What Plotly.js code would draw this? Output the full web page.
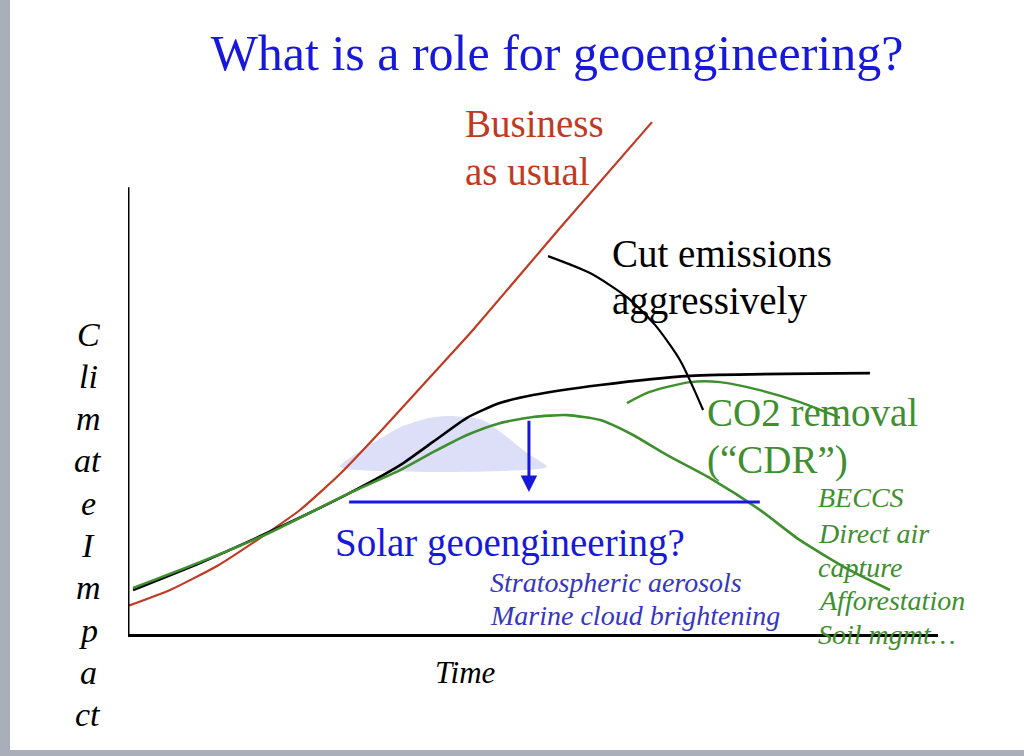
<!DOCTYPE html>
<html>
<head>
<meta charset="utf-8">
<script src="https://cdn.plot.ly/plotly-3.0.1.min.js"></script>
<style>
  html, body { margin: 0; padding: 0; background: #ffffff; }
  #chart { width: 1024px; height: 756px; }
  .edge-left { position: absolute; left: 0; top: 0; width: 10px; height: 756px; background: #a9aeb8; }
  .edge-bottom { position: absolute; left: 0; top: 750px; width: 1024px; height: 6px; background: #a9aeb8; }
</style>
</head>
<body>
<div id="chart"></div>
<div class="edge-left"></div>
<div class="edge-bottom"></div>
<script>
// ---- Data (Time 0-100, Climate Impacts 0-100) ----
const bauTime   = [0, 5.19, 10.99, 16.3, 21.23, 26.17, 31.11, 37.53, 42.59, 53.33, 64.69];
const bauImpact = [6.27, 9.85, 15.22, 21.49, 27.76, 35.82, 45.22, 57.99, 68.06, 90.9, 114.6];

const cutTime   = [0.62, 8.89, 17.16, 27.4, 33.6, 37.65, 41.85, 45.9, 50.0, 58.3, 69.4, 91.6];
const cutImpact = [9.85, 15.9, 22.6, 31.6, 37.8, 43.0, 48.4, 51.7, 53.5, 55.75, 57.8, 58.4];

const cdrTime   = [0.62, 8.89, 17.16, 27.4, 33.6, 37.65, 41.85, 45.9, 50.0, 54.2, 58.3, 62.35, 66.5, 71.85, 78.0, 82.96, 89.1, 94.07];
const cdrImpact = [10.3, 16.1, 22.4, 31.6, 36.7, 40.7, 44.55, 47.2, 48.6, 49.0, 47.9, 44.55, 40.1, 34.9, 27.8, 21.0, 14.3, 9.85];

const cdrArcTime   = [61.6, 64.4, 69.4, 73.1, 78.0, 82.96, 87.9];
const cdrArcImpact = [51.7, 54.2, 56.4, 56.4, 54.6, 51.9, 48.4];

const pointerTime   = [51.85, 57.04, 61.6, 65.06, 68.15, 71.0];
const pointerImpact = [84.6, 80.8, 75.4, 69.2, 61.3, 50.15];

const shadeTime   = [26.17, 29.5, 33.6, 37.3, 39.75, 43.8, 46.8, 49.26, 51.7, 26.17];
const shadeImpact = [37.4, 41.9, 46.3, 48.4, 48.8, 47.9, 44.1, 40.5, 37.4, 37.4];

const solarTime   = [27.3, 78.0];
const solarImpact = [29.55, 29.55];

const arrowTime = 49.5, arrowFrom = 48.1, arrowTo = 31.8;

const yLabelParts = ["C", "li", "m", "at", "e", "I", "m", "p", "a", "ct", "s"];

// ---- Colours ----
const RED = "#c03a22", BLACK = "#000000", GREEN = "#3f8f2f", BLUE = "#1818dc", BLUE2 = "#3636c0";
const SERIF = "Liberation Serif, Times New Roman, serif";

// plot area in page pixels (for placing text labels)
const L = 128, R = 938, T = 98, B = 634;
const px = v => (v - L) / (R - L);
const py = v => (B - v) / (B - T);

const traces = [
  { x: shadeTime, y: shadeImpact, mode: "lines", fill: "toself", fillcolor: "#dcdff7",
    line: { width: 0, color: "#dcdff7", shape: "spline", smoothing: 0.6 }, hoverinfo: "skip" },
  { x: bauTime, y: bauImpact, mode: "lines", line: { color: RED, width: 2.2, shape: "spline", smoothing: 0.5 } },
  { x: cutTime, y: cutImpact, mode: "lines", line: { color: BLACK, width: 2.6, shape: "spline", smoothing: 0.6 } },
  { x: cdrTime, y: cdrImpact, mode: "lines", line: { color: GREEN, width: 2.6, shape: "spline", smoothing: 0.6 } },
  { x: cdrArcTime, y: cdrArcImpact, mode: "lines", line: { color: GREEN, width: 2.4, shape: "spline", smoothing: 0.7 } },
  { x: pointerTime, y: pointerImpact, mode: "lines", line: { color: BLACK, width: 2.2, shape: "spline", smoothing: 0.7 } },
  { x: solarTime, y: solarImpact, mode: "lines", line: { color: BLUE, width: 3 } }
];

function txt(text, x, y, size, color, opts) {
  return Object.assign({
    text: text, xref: "paper", yref: "paper", x: px(x), y: py(y),
    xanchor: "left", yanchor: "middle", showarrow: false,
    font: { family: SERIF, size: size, color: color }
  }, opts || {});
}

const annotations = [
  txt("Business", 463, 124, 39, RED),
  txt("as usual", 463, 171, 39, RED),
  txt("Cut emissions", 610, 254, 39, BLACK),
  txt("aggressively", 610, 301, 39, BLACK),
  txt("CO2 removal", 705, 412, 39, GREEN),
  txt("(\u201cCDR\u201d)", 705, 460, 39, GREEN),
  txt("Solar geoengineering?", 333, 543, 39, BLUE),
  txt("<i>Stratospheric aerosols</i>", 488, 582, 28, BLUE2),
  txt("<i>Marine cloud brightening</i>", 488, 615, 28, BLUE2),
  txt("<i>BECCS</i>", 816, 498, 28, GREEN),
  txt("<i>Direct air</i>", 816, 533, 28, GREEN),
  txt("<i>capture</i>", 816, 567, 28, GREEN),
  txt("<i>Afforestation</i>", 816, 600, 28, GREEN),
  txt("<i>Soil mgmt\u2026</i>", 816, 634, 28, GREEN),
  txt("<i>Time</i>", 433, 672, 31, BLACK),
  { text: "", x: arrowTime, y: arrowTo, ax: arrowTime, ay: arrowFrom, xref: "x", yref: "y",
    axref: "x", ayref: "y", showarrow: true, arrowhead: 2, arrowsize: 1.1, arrowwidth: 3,
    arrowcolor: BLUE, standoff: 0 }
];
const yStart = 334, yStep = 42.3;
yLabelParts.forEach((s, i) => {
  annotations.push(txt("<i>" + s + "</i>", 88, yStart + i * yStep, 34, BLACK, { xanchor: "center" }));
});

const layout = {
  width: 1024, height: 756,
  margin: { l: L, r: 1024 - R, t: T, b: 756 - B, pad: 0 },
  paper_bgcolor: "#ffffff", plot_bgcolor: "rgba(0,0,0,0)",
  showlegend: false,
  title: { text: "What is a role for geoengineering?", xref: "container", yref: "container",
    x: 557 / 1024, xanchor: "center", y: 1 - 52 / 756, yanchor: "middle",
    font: { family: SERIF, size: 50, color: BLUE } },
  xaxis: { range: [0, 100], showgrid: false, zeroline: false, showticklabels: false, ticks: "",
    showline: true, linecolor: BLACK, linewidth: 3, fixedrange: true },
  yaxis: { range: [0, 120], showgrid: false, zeroline: false, showticklabels: false, ticks: "",
    showline: false, fixedrange: true },
  shapes: [
    { type: "line", xref: "x", yref: "y", x0: 0, x1: 0, y0: 0, y1: 100, line: { color: BLACK, width: 3 } }
  ],
  annotations: annotations
};

Plotly.newPlot("chart", traces, layout, { staticPlot: true, displayModeBar: false });
</script>
</body>
</html>
